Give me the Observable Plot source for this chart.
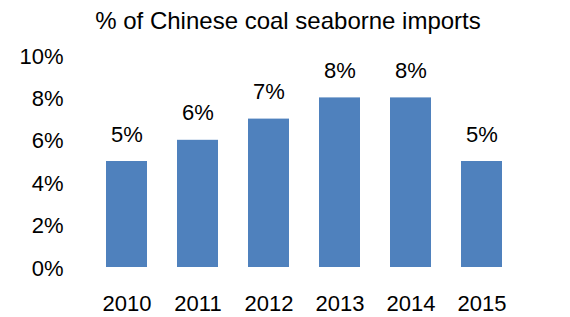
<!DOCTYPE html>
<html>
<head>
<meta charset="utf-8">
<script src="https://cdn.jsdelivr.net/npm/d3@7"></script>
<script src="https://cdn.jsdelivr.net/npm/@observablehq/plot@0.6"></script>
<style>
  html, body { margin: 0; padding: 0; background: #fff; }
  svg { display: block; }
</style>
</head>
<body>
<div id="chart"></div>
<script>
const title = "% of Chinese coal seaborne imports";
const years = ["2010", "2011", "2012", "2013", "2014", "2015"];
const shares = [0.05, 0.06, 0.07, 0.08, 0.08, 0.05];
const yTicks = [0, 0.02, 0.04, 0.06, 0.08, 0.10];

const data = years.map((year, i) => ({year, share: shares[i]}));
const fmt = d3.format(".0%");
const font = "'Liberation Sans', Arial, sans-serif";

const chart = Plot.plot({
  width: 570,
  height: 317,
  marginTop: 55,
  marginBottom: 50,
  marginLeft: 89,
  marginRight: 50,
  style: {fontFamily: font, fontSize: "22px", color: "#000", background: "#fff"},
  x: {domain: years, paddingInner: 0.42, paddingOuter: 0.21, label: null},
  y: {domain: [0, 0.10], label: null},
  marks: [
    Plot.barY(data, {x: "year", y: "share", fill: "#4F81BD"}),
    Plot.text(data, {x: "year", y: "share", text: d => fmt(d.share), dy: -27, fontSize: 22, fill: "#000"}),
    Plot.axisY({ticks: yTicks, tickFormat: fmt, tickSize: 0, tickPadding: 26, fontSize: 22, fill: "#000", dy: 1}),
    Plot.axisX({tickSize: 0, tickPadding: 28, fontSize: 22, fill: "#000"}),
    Plot.text([title], {frameAnchor: "top", dx: -17, dy: -44, fontSize: 24, fill: "#000"})
  ]
});
document.getElementById("chart").appendChild(chart);
</script>
</body>
</html>
